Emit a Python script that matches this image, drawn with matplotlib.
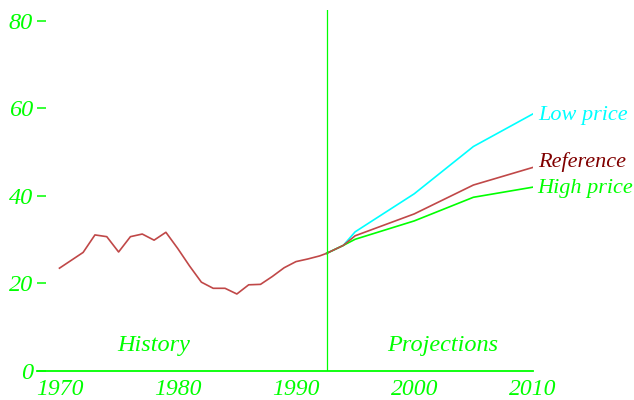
import matplotlib
matplotlib.use("Agg")
import matplotlib.pyplot as plt

# history
hist_years = [1970, 1971, 1972, 1973, 1974, 1975, 1976, 1977, 1978, 1979, 1980,
              1981, 1982, 1983, 1984, 1985, 1986, 1987, 1988, 1989, 1990, 1991,
              1992, 1992.6]
hist_vals = [23.5, 25.3, 27.1, 31.1, 30.7, 27.2, 30.7, 31.3, 29.9, 31.7, 28.0,
             24.0, 20.3, 18.9, 18.9, 17.6, 19.7, 19.8, 21.6, 23.6, 25.0, 25.6,
             26.3, 26.9]

# projections
proj_years = [1992.6, 1994, 1995, 2000, 2005, 2010]
low_price = [26.9, 28.7, 31.8, 40.5, 51.3, 58.7]
reference = [26.9, 28.7, 30.9, 35.9, 42.5, 46.5]
high_price = [26.9, 28.7, 30.1, 34.3, 39.7, 42.0]

split_year = 1992.6
green = "#00ff00"
red = "#c04848"
fs = 17.5

plt.rcParams["font.family"] = ["Liberation Serif", "DejaVu Serif"]
plt.rcParams["font.style"] = "italic"

fig = plt.figure(figsize=(6.34, 4.0), dpi=100)
ax = fig.add_axes([37 / 634, 29 / 400, 495.5 / 634, 361 / 400])

ax.plot(hist_years, hist_vals, c=red, linewidth=1.2)
ax.plot(proj_years, low_price, c="#00ffff", linewidth=1.2)
ax.plot(proj_years, high_price, c=green, linewidth=1.2)
ax.plot(proj_years, reference, c=red, linewidth=1.2)
ax.axvline(split_year, c=green, linewidth=0.9)

#labels at the ends of the lines, a bit smaller so they fit
ax.text(2010.5, 58.5, "Low price", color="#00ffff", fontsize=16, va="center", ha="left", clip_on=False)
ax.text(2010.5, 47.7, "Reference", color="#800000", fontsize=16, va="center", ha="left", clip_on=False)
ax.text(2010.4, 41.6, "High price", color=green, fontsize=16, va="center", ha="left", clip_on=False)
ax.text(1978.0, 5.9, "History", color=green, fontsize=fs, va="center", ha="center")
ax.text(2002.4, 5.9, "Projections", color=green, fontsize=fs, va="center", ha="center")

ax.set_xlim(1968.1, 2010)
ax.set_ylim(0, 82.5)
ax.set_xticks([1970, 1980, 1990, 2000, 2010])
ax.set_yticks([0, 20, 40, 60, 80])

for s in ["top", "right", "left"]:
    ax.spines[s].set_visible(False)
ax.spines["bottom"].set_color(green)
ax.spines["bottom"].set_linewidth(1.3)

ax.tick_params(axis="x", length=0, pad=6, labelsize=17, labelcolor=green)
ax.tick_params(axis="y", direction="in", length=6.5, width=1.1, color=green, pad=3,
               labelsize=fs, labelcolor=green)

fig.savefig("out.png", dpi=100)
